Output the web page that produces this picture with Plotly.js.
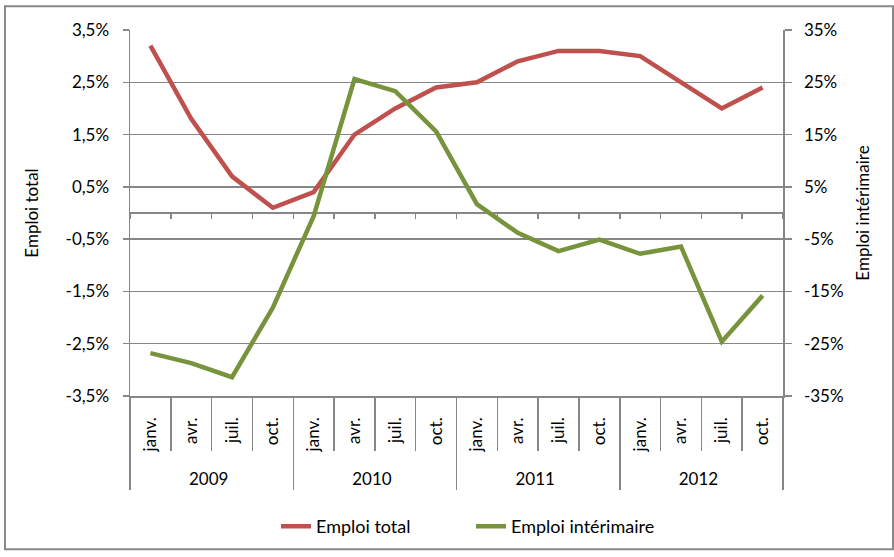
<!DOCTYPE html>
<html>
<head>
<meta charset="utf-8">
<script src="https://cdn.plot.ly/plotly-3.0.1.min.js"></script>
<style>
  html, body { margin: 0; padding: 0; background: #fff; }
  #chart { width: 894px; height: 557px; }
</style>
</head>
<body>
<div id="chart"></div>
<script>
// ---- data ----
const years = ['2009', '2010', '2011', '2012'];
const quarters = ['janv.', 'avr.', 'juil.', 'oct.'];
const emploiTotal = [3.2, 1.8, 0.7, 0.1, 0.4, 1.5, 2.0, 2.4, 2.5, 2.9, 3.1, 3.1, 3.0, 2.5, 2.0, 2.4];
const emploiInterimaire = [-26.8, -28.7, -31.4, -18.1, -0.6, 25.6, 23.3, 15.6, 1.7, -3.8, -7.3, -5.1, -7.8, -6.4, -24.6, -15.8];
const leftTickVals = [-3.5, -2.5, -1.5, -0.5, 0.5, 1.5, 2.5, 3.5];
const leftTickText = ['-3,5%', '-2,5%', '-1,5%', '-0,5%', '0,5%', '1,5%', '2,5%', '3,5%'];
const rightTickVals = [-35, -25, -15, -5, 5, 15, 25, 35];
const rightTickText = ['-35%', '-25%', '-15%', '-5%', '5%', '15%', '25%', '35%'];
const seriesNames = ['Emploi total', 'Emploi intérimaire'];
const seriesColors = ['#C0504D', '#77933C'];

// multicategory x built from the label arrays
const xYear = [], xQuarter = [];
years.forEach(y => quarters.forEach(q => { xYear.push(y); xQuarter.push(q); }));
const nCat = xYear.length;

const FONT = 'Lato, "Noto Sans", sans-serif';
const GRID = '#878787';
const NBSP3 = '\u00a0\u00a0\u00a0';

const traces = [
  {
    type: 'scatter', mode: 'lines', name: seriesNames[0],
    x: [xYear, xQuarter], y: emploiTotal,
    xaxis: 'x', yaxis: 'y',
    line: { color: seriesColors[0], width: 4.5 }
  },
  {
    type: 'scatter', mode: 'lines', name: seriesNames[1],
    x: [xYear, xQuarter], y: emploiInterimaire,
    xaxis: 'x2', yaxis: 'y2',
    line: { color: seriesColors[1], width: 4.5 }
  }
];

const layout = {
  width: 894, height: 557,
  margin: { l: 130, r: 111, t: 30, b: 157 },
  paper_bgcolor: '#fff', plot_bgcolor: '#fff',
  font: { family: FONT, size: 17, color: '#000' },
  showlegend: true,
  legend: {
    orientation: 'h', x: (276 - 130) / 653, xanchor: 'left', y: -0.357, yanchor: 'middle',
    font: { family: FONT, size: 18, color: '#000' },
    entrywidth: 150, entrywidthmode: 'pixels'
  },
  xaxis: {
    type: 'multicategory', range: [-0.5, nCat - 0.5], autorange: false,
    showline: true, linecolor: GRID, linewidth: 1.5,
    ticks: 'outside', tickson: 'boundaries', ticklen: 53, tickcolor: GRID, tickwidth: 1.5,
    tickangle: -90, ticksuffix: NBSP3,
    tickfont: { family: FONT, size: 17, color: '#000' },
    showdividers: true, dividercolor: GRID, dividerwidth: 1.5,
    showgrid: false, zeroline: false, fixedrange: true
  },
  xaxis2: {
    type: 'multicategory', range: [-0.5, nCat - 0.5], autorange: false,
    overlaying: 'x', anchor: 'free', position: 0.5,
    showline: false, ticks: 'outside', tickson: 'boundaries', ticklen: 5,
    tickcolor: GRID, tickwidth: 1.5, showticklabels: false, showdividers: false,
    showgrid: false, zeroline: false, fixedrange: true
  },
  yaxis: {
    range: [-3.5, 3.5], tickmode: 'array', tickvals: leftTickVals, ticktext: leftTickText,
    showline: true, linecolor: GRID, linewidth: 1.5,
    ticks: 'outside', ticklen: 6, tickcolor: GRID, tickwidth: 1.5,
    showgrid: true, gridcolor: GRID, gridwidth: 1.5,
    zeroline: true, zerolinecolor: GRID, zerolinewidth: 1.5,
    ticklabelstandoff: 10,
    tickfont: { family: FONT, size: 17, color: '#000' },
    title: { text: 'Emploi total', font: { family: FONT, size: 17, color: '#000' }, standoff: 22 },
    fixedrange: true
  },
  yaxis2: {
    overlaying: 'y', side: 'right', anchor: 'x',
    range: [-35, 35], tickmode: 'array', tickvals: rightTickVals, ticktext: rightTickText,
    showline: true, linecolor: GRID, linewidth: 1.5,
    ticks: 'outside', ticklen: 7, tickcolor: GRID, tickwidth: 1.5,
    showgrid: false, zeroline: false,
    ticklabelstandoff: 9,
    tickfont: { family: FONT, size: 17, color: '#000' },
    title: { text: 'Emploi intérimaire', font: { family: FONT, size: 17, color: '#000' }, standoff: 14 },
    fixedrange: true
  },
  shapes: [
    { type: 'rect', xref: 'paper', yref: 'paper',
      x0: (5 - 130) / 653, x1: (893 - 130) / 653,
      y0: (400 - 555) / 370, y1: (400 - 6) / 370,
      line: { color: '#888', width: 2 }, fillcolor: 'rgba(0,0,0,0)', layer: 'below' }
  ]
};

Plotly.newPlot('chart', traces, layout, { displayModeBar: false, staticPlot: true });
</script>
</body>
</html>
